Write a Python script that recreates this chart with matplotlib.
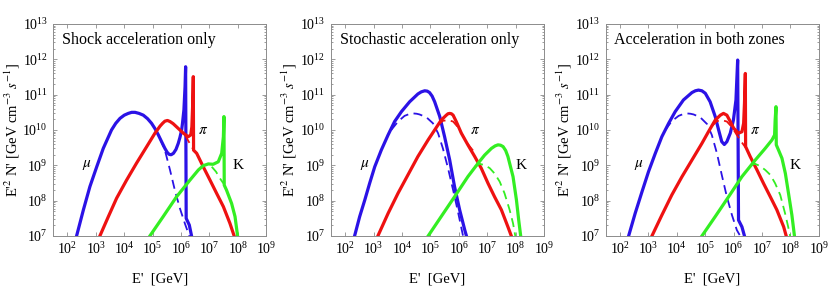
import numpy as np
import matplotlib
matplotlib.use("Agg")
import matplotlib.pyplot as plt
from matplotlib.ticker import LogLocator, NullFormatter

plt.rcParams['font.family'] = ['Liberation Serif', 'DejaVu Serif']
plt.rcParams['mathtext.fontset'] = 'stix'

# values are log10(E' / GeV) and log10(E'^2 N')
titles = ["Shock acceleration only", "Stochastic acceleration only", "Acceleration in both zones"]

# --- shock acceleration only
shock_mu_x = [2.32, 2.56, 2.79, 3.03, 3.26, 3.55, 3.70, 3.85, 4.00, 4.14, 4.26, 4.38, 4.52, 4.67, 4.82,
              4.96, 5.08, 5.20, 5.32, 5.43, 5.51, 5.58, 5.65, 5.73, 5.82, 5.90, 5.96, 6.02, 6.05, 6.10,
              6.14, 6.16, 6.18, 6.29, 6.37]
shock_mu_y = [7.00, 7.74, 8.40, 8.96, 9.48, 10.00, 10.19, 10.33, 10.42, 10.47, 10.50, 10.50, 10.47, 10.42, 10.32,
              10.19, 10.04, 9.86, 9.66, 9.48, 9.37, 9.31, 9.30, 9.34, 9.45, 9.62, 9.79, 10.00, 10.19, 10.57,
              11.23, 11.79, 7.50, 7.31, 7.00]
shock_mu_dx = [5.26, 5.43, 5.61, 5.78, 5.96, 6.14, 6.29]
shock_mu_dy = [9.76, 9.43, 8.87, 8.30, 7.78, 7.34, 7.00]

shock_pi_x = [3.14, 3.44, 3.73, 4.08, 4.43, 4.79, 5.08, 5.26, 5.35, 5.43, 5.52, 5.61, 5.72, 5.84, 6.08,
              6.25, 6.34, 6.38, 6.41, 6.43, 6.44, 6.55, 6.78, 7.02, 7.25, 7.49, 7.72, 7.87]
shock_pi_y = [7.00, 7.55, 8.07, 8.58, 9.06, 9.53, 9.91, 10.11, 10.19, 10.25, 10.27, 10.24, 10.18, 10.09, 9.91,
              9.81, 9.86, 10.09, 10.75, 11.51, 9.43, 9.34, 8.96, 8.58, 8.21, 7.83, 7.36, 7.00]
shock_pi_dx = [6.14, 6.25, 6.37, 6.45]
shock_pi_dy = [9.86, 9.70, 9.53, 9.42]

shock_k_x = [4.90, 5.37, 5.84, 6.31, 6.61, 6.78, 6.96, 7.13, 7.31, 7.43, 7.49, 7.51, 7.52, 7.60, 7.78,
             7.90, 7.99]
shock_k_y = [7.00, 7.55, 8.11, 8.58, 8.87, 8.99, 9.04, 9.03, 9.10, 9.34, 9.81, 10.38, 8.44, 8.30, 7.92,
             7.55, 7.00]
shock_k_dx = [7.08, 7.23, 7.37, 7.49]
shock_k_dy = [8.96, 8.82, 8.63, 8.49]

# --- stochastic acceleration only
stoch_mu_x = [2.33, 2.51, 2.69, 2.86, 3.04, 3.27, 3.51, 3.74, 3.98, 4.27, 4.56, 4.68, 4.80, 4.89, 4.97,
              5.06, 5.15, 5.33, 5.50, 5.68, 5.85, 6.03, 6.21, 6.27]
stoch_mu_y = [7.00, 7.55, 8.02, 8.49, 8.96, 9.43, 9.86, 10.24, 10.52, 10.80, 11.02, 11.08, 11.11, 11.10, 11.06,
              10.96, 10.80, 10.38, 9.81, 9.15, 8.40, 7.74, 7.17, 7.00]
stoch_mu_dx = [3.62, 3.86, 4.09, 4.25, 4.39, 4.52, 4.62, 4.86, 5.09, 5.27, 5.44, 5.62, 5.80, 5.97, 6.15]
stoch_mu_dy = [10.00, 10.24, 10.40, 10.45, 10.47, 10.46, 10.44, 10.36, 10.19, 9.91, 9.48, 8.92, 8.30, 7.69, 7.00]

stoch_pi_x = [3.15, 3.51, 3.86, 4.21, 4.56, 4.92, 5.15, 5.38, 5.56, 5.62, 5.68, 5.74, 5.80, 5.91, 6.09,
              6.32, 6.56, 6.79, 7.03, 7.26, 7.50, 7.73, 7.85]
stoch_pi_y = [7.00, 7.64, 8.21, 8.73, 9.25, 9.72, 10.00, 10.28, 10.42, 10.46, 10.47, 10.46, 10.42, 10.24, 9.91,
              9.58, 9.25, 8.92, 8.49, 8.11, 7.74, 7.26, 7.00]
stoch_pi_dx = [5.27, 5.44, 5.62, 5.80, 5.97, 6.15, 6.32, 6.50]
stoch_pi_dy = [10.14, 10.26, 10.28, 10.24, 10.08, 9.83, 9.60, 9.42]

stoch_k_x = [4.92, 5.38, 5.85, 6.32, 6.68, 6.91, 7.15, 7.28, 7.38, 7.47, 7.56, 7.65, 7.73, 7.91, 8.03,
             8.11, 8.18]
stoch_k_y = [7.00, 7.55, 8.11, 8.68, 9.06, 9.29, 9.48, 9.55, 9.58, 9.57, 9.53, 9.42, 9.25, 8.68, 8.02,
             7.45, 7.00]
stoch_k_dx = [6.56, 6.73, 6.91, 7.09, 7.26, 7.44, 7.61, 7.79, 7.91, 7.99]
stoch_k_dy = [8.96, 9.04, 9.01, 8.92, 8.77, 8.54, 8.21, 7.74, 7.36, 7.00]

# --- acceleration in both zones
both_mu_x = [2.30, 2.53, 2.77, 3.00, 3.24, 3.47, 3.71, 3.94, 4.23, 4.53, 4.65, 4.76, 4.88, 5.00, 5.17,
             5.35, 5.47, 5.58, 5.67, 5.76, 5.88, 5.99, 6.08, 6.11, 6.14, 6.17, 6.29, 6.38]
both_mu_y = [7.00, 7.64, 8.25, 8.82, 9.34, 9.81, 10.19, 10.52, 10.85, 11.06, 11.11, 11.13, 11.11, 11.04, 10.80,
             10.38, 10.00, 9.67, 9.59, 9.67, 9.91, 10.28, 10.85, 11.42, 11.98, 7.45, 7.26, 7.00]
both_mu_dx = [3.59, 3.82, 4.06, 4.22, 4.35, 4.48, 4.59, 4.82, 5.06, 5.23, 5.41, 5.58, 5.76, 5.94, 6.11, 6.23]
both_mu_dy = [10.00, 10.25, 10.40, 10.45, 10.47, 10.46, 10.44, 10.36, 10.17, 9.86, 9.34, 8.73, 8.11, 7.59,
              7.17, 7.00]

both_pi_x = [3.12, 3.47, 3.82, 4.18, 4.53, 4.88, 5.11, 5.35, 5.53, 5.64, 5.76, 5.88, 6.00, 6.17, 6.29,
             6.35, 6.38, 6.41, 6.42, 6.58, 6.82, 7.05, 7.29, 7.52, 7.76, 7.85]
both_pi_y = [7.00, 7.59, 8.16, 8.68, 9.15, 9.62, 9.95, 10.28, 10.42, 10.47, 10.42, 10.24, 10.05, 9.91, 9.95,
             10.19, 10.75, 11.60, 9.53, 9.25, 8.87, 8.49, 8.11, 7.74, 7.26, 7.00]
both_pi_dx = [5.23, 5.41, 5.58, 5.76, 5.94, 6.11, 6.27, 6.41]
both_pi_dy = [10.11, 10.25, 10.28, 10.24, 10.08, 9.86, 9.67, 9.51]

both_k_x = [4.88, 5.35, 5.82, 6.29, 6.76, 7.11, 7.35, 7.44, 7.46, 7.49, 7.50, 7.58, 7.70, 7.82, 7.93,
            8.05, 8.14]
both_k_y = [7.00, 7.55, 8.11, 8.68, 9.15, 9.48, 9.72, 9.86, 10.28, 10.66, 9.58, 9.43, 9.20, 8.77, 8.21,
            7.59, 7.00]
both_k_dx = [6.58, 6.76, 6.93, 7.11, 7.29, 7.46, 7.64, 7.81, 7.93, 7.99]
both_k_dy = [9.01, 9.04, 8.98, 8.87, 8.73, 8.49, 8.16, 7.64, 7.22, 7.00]

panels = [
    [(shock_mu_x, shock_mu_y, shock_mu_dx, shock_mu_dy),
     (shock_pi_x, shock_pi_y, shock_pi_dx, shock_pi_dy),
     (shock_k_x, shock_k_y, shock_k_dx, shock_k_dy)],
    [(stoch_mu_x, stoch_mu_y, stoch_mu_dx, stoch_mu_dy),
     (stoch_pi_x, stoch_pi_y, stoch_pi_dx, stoch_pi_dy),
     (stoch_k_x, stoch_k_y, stoch_k_dx, stoch_k_dy)],
    [(both_mu_x, both_mu_y, both_mu_dx, both_mu_dy),
     (both_pi_x, both_pi_y, both_pi_dx, both_pi_dy),
     (both_k_x, both_k_y, both_k_dx, both_k_dy)],
]

particle_names = [r"$\mu$", r"$\pi$", "K"]
# label positions (log10 E, log10 y) per panel
label_pos = [
    [(2.67, 9.0), (6.78, 10.0), (8.0, 9.0)],
    [(2.69, 9.0), (6.56, 10.0), (8.2, 9.0)],
    [(2.65, 9.0), (6.76, 10.0), (8.17, 9.0)],
]
colors = ['#2b12e6', '#ee1111', '#33ee22']

fig = plt.figure(figsize=(8.3, 2.9), dpi=100)
lefts = [0.0642, 0.3988, 0.7300]

for i in range(3):
    ax = fig.add_axes([lefts[i], 0.1862, 0.2566, 0.731])
    for (sx, sy, dx, dy), c in zip(panels[i], colors):
        ax.plot(10 ** np.array(dx), 10 ** np.array(dy), color=c, lw=1.3, ls=(0, (5, 3)))
        ax.plot(10 ** np.array(sx), 10 ** np.array(sy), color=c, lw=2.3, solid_joinstyle='round')
    for name, (lx, ly) in zip(particle_names, label_pos[i]):
        ax.text(10 ** lx, 10 ** ly, name, fontsize=11, ha='center', va='center')
    ax.set_xscale('log')
    ax.set_yscale('log')
    ax.set_xlim(10 ** 1.5, 1e9)
    ax.set_ylim(1e7, 1e13)
    ax.set_xticks([10.0 ** k for k in range(2, 10)])
    ax.set_yticks([10.0 ** k for k in range(7, 14)])
    ax.xaxis.set_minor_locator(LogLocator(base=10, subs=np.arange(2, 10)))
    ax.yaxis.set_minor_locator(LogLocator(base=10, subs=np.arange(2, 10)))
    ax.xaxis.set_minor_formatter(NullFormatter())
    ax.yaxis.set_minor_formatter(NullFormatter())
    ax.tick_params(which='both', direction='in', top=True, right=True, color='0.55', width=0.6,
                   labelsize=10, pad=4)
    ax.tick_params(which='major', length=3)
    ax.tick_params(which='minor', length=1.5)
    for s in ax.spines.values():
        s.set_color('0.55')
        s.set_linewidth(0.7)
    ax.text(0.04, 0.925, titles[i], transform=ax.transAxes, fontsize=11.5, ha='left', va='center')
    ax.set_xlabel("E'  [GeV]", fontsize=10.5, labelpad=11)
    ax.set_ylabel(r"E'$^2$ N' [GeV cm$^{-3}$ $s^{-1}$]", fontsize=10.5, labelpad=0.5)

fig.savefig("out.png", dpi=100)
